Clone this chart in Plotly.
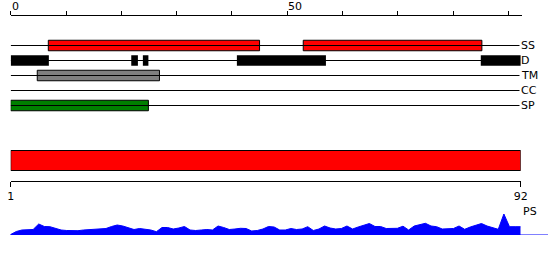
import plotly.graph_objects as go

# ---------------- data ----------------
seq_len = 92
track_names = ["SS", "D", "TM", "CC", "SP"]

ss_starts = [6.8, 52.9]
ss_ends = [45.0, 85.2]

d_starts = [0.0, 21.8, 23.9, 40.9, 85.0]
d_ends = [6.9, 23.0, 24.9, 57.0, 92.2]

tm_starts = [4.8]
tm_ends = [26.9]

cc_starts = []
cc_ends = []

sp_starts = [0.0]
sp_ends = [24.9]

protein_start = [1]
protein_end = [92]

top_ticks = list(range(0, 100, 10))
top_tick_labels = ["0", "50"]
bottom_ticks = [1, 92]
bottom_tick_labels = ["1", "92"]

ps_values = [0.5, 3.5, 5, 5, 5.5, 11, 8.5, 8.3, 7, 5,
             4.5, 4.3, 4.3, 5, 5.5, 6, 6, 6.5, 8.5, 10,
             9, 7, 5.5, 6.5, 6, 5, 3.3, 7.5, 7.5, 6,
             7, 8.5, 5, 4.5, 5, 5.5, 5, 9, 7.5, 5.5,
             6, 6.7, 6.5, 4, 4.5, 6, 8.5, 8, 5, 5,
             6.5, 5.5, 6, 8.3, 4.5, 6, 9, 7, 6, 6.5,
             9, 6, 8, 9.5, 11.5, 8.5, 8.5, 6.5, 6.5, 6.7,
             8.8, 5, 9, 10, 11.7, 9, 8.3, 6, 6, 6.5,
             9, 5.7, 8, 10, 11.5, 9, 7, 5.7, 21, 8.3,
             8.3, 8.3]
ps_positions = list(range(1, seq_len + 1))

# ---------------- figure ----------------
W, H = 550, 260
FONT = dict(family="DejaVu Sans", size=11, color="black")

fig = go.Figure()

# track baselines
for name in track_names:
    fig.add_trace(go.Scatter(x=[0, seq_len], y=[name, name], mode="lines",
                             line=dict(color="black", width=1),
                             xaxis="x", yaxis="y", hoverinfo="skip"))

def add_bars(name, starts, ends, color, border):
    if not starts:
        return
    fig.add_trace(go.Bar(orientation="h", y=[name] * len(starts), base=starts,
                         x=[e - s for s, e in zip(starts, ends)], width=0.7,
                         marker=dict(color=color,
                                     line=dict(color="black", width=1 if border else 0)),
                         xaxis="x", yaxis="y"))

add_bars("SS", ss_starts, ss_ends, "#ff0000", True)
add_bars("D", d_starts, d_ends, "#000000", False)
add_bars("TM", tm_starts, tm_ends, "#808080", True)
add_bars("CC", cc_starts, cc_ends, "#000000", True)
add_bars("SP", sp_starts, sp_ends, "#008000", True)

# full-length protein bar
fig.add_trace(go.Bar(orientation="h", y=[0], base=protein_start,
                     x=[e - s for s, e in zip(protein_start, protein_end)], width=0.667,
                     marker=dict(color="#ff0000", line=dict(color="black", width=1)),
                     xaxis="x2", yaxis="y2"))

# PS area profile
fig.add_trace(go.Scatter(x=ps_positions, y=ps_values, mode="lines", fill="tozeroy",
                         line=dict(color="#0000ff", width=1), fillcolor="#0000ff",
                         xaxis="x2", yaxis="y3"))

def px_y(p):
    return 1 - p / H

ann = []
for name in track_names:
    ann.append(dict(x=seq_len, y=name, xref="x", yref="y", text=name, showarrow=False,
                    xanchor="left", yanchor="middle", xshift=0, font=FONT))
for lab in top_tick_labels:
    ann.append(dict(x=float(lab), y=px_y(6.5), xref="x", yref="paper", text=lab,
                    showarrow=False, xanchor="left", yanchor="middle", xshift=-1, font=FONT))
ann.append(dict(x=seq_len, y=24, xref="x2", yref="y3", text="PS", showarrow=False,
                xanchor="left", yanchor="middle", xshift=0, font=FONT))

fig.update_layout(
    template="none",
    width=W, height=H, margin=dict(l=0, r=0, t=0, b=0, pad=0, autoexpand=False),
    paper_bgcolor="white", plot_bgcolor="white", showlegend=False,
    barmode="overlay", font=FONT,
    xaxis=dict(domain=[10.7 / W, 521.7 / W], range=[0, 92.4], anchor="free",
               position=px_y(14.5), side="top", showline=True, linecolor="black",
               linewidth=1, ticks="outside", ticklen=4, tickcolor="black", tickwidth=1,
               tickvals=top_ticks, showticklabels=False, showgrid=False, zeroline=False,
               automargin=False),
    yaxis=dict(domain=[px_y(113), px_y(38)], type="category",
               categoryorder="array", categoryarray=track_names, range=[4.5, -0.5],
               visible=False, anchor="x", automargin=False),
    xaxis2=dict(domain=[10.7 / W, 520.7 / W], range=[1, 92], anchor="free",
                position=px_y(180.5), side="bottom", showline=True, linecolor="black",
                linewidth=1, ticks="outside", ticklen=5, tickcolor="black", tickwidth=1,
                tickvals=bottom_ticks, ticktext=bottom_tick_labels, tickfont=FONT,
                showgrid=False, zeroline=False, automargin=False),
    yaxis2=dict(domain=[px_y(175.5), px_y(145.5)], range=[-0.5, 0.5], visible=False,
                anchor="x2", automargin=False),
    yaxis3=dict(domain=[px_y(235), px_y(200)], range=[0, 35], visible=False,
                anchor="x2", automargin=False),
    annotations=ann,
    shapes=[dict(type="line", xref="paper", yref="y3", x0=10 / W, x1=548 / W,
                 y0=0, y1=0, line=dict(color="#0000ff", width=1))],
)

fig.write_html("out.html")
